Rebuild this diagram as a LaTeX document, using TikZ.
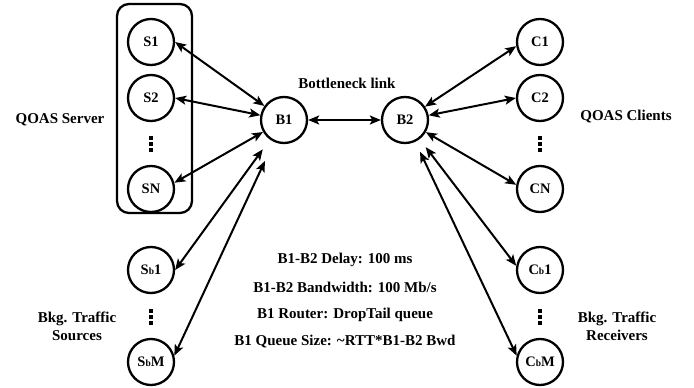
\documentclass[tikz,border=0pt]{standalone}
\usepackage{fontspec}
\setmainfont{Liberation Serif}
\usetikzlibrary{arrows.meta}
\begin{document}
\begin{tikzpicture}[x=1pt,y=-1pt,
  nd/.style={circle,draw,line width=2.3pt,minimum size=46pt,inner sep=0pt,font=\fontsize{14.5}{14.5}\selectfont\bfseries},
  lbl/.style={font=\fontsize{15}{18}\selectfont\bfseries,align=center},
  link/.style={line width=2pt,{Stealth[length=11pt,width=9pt,inset=2.5pt]}-{Stealth[length=11pt,width=9pt,inset=2.5pt]}},
  vdot/.style={fill=black}
]
\useasboundingbox (0,0) rectangle (694,388);
\newcommand{\smb}{{\fontsize{9.5}{9.5}\selectfont b}}
% server group box
\draw[line width=2.3pt,rounded corners=12pt] (117,4) rectangle (192,213);
% nodes
\node[nd] (S1) at (151,42) {S1};
\node[nd] (S2) at (151,98) {S2};
\node[nd] (SN) at (151,189) {SN};
\node[nd] (Sb1) at (151,270) {S\smb1};
\node[nd] (SbM) at (151,362) {S\smb M};
\node[nd] (B1) at (284,120) {B1};
\node[nd] (B2) at (405,120) {B2};
\node[nd] (C1) at (540,42) {C1};
\node[nd] (C2) at (540,98) {C2};
\node[nd] (CN) at (540,189) {CN};
\node[nd] (Cb1) at (540,270) {C\smb1};
\node[nd] (CbM) at (540,362) {C\smb M};
% vertical dots
\foreach \x/\y in {151/144, 151/317, 540/144, 540/317}{
  \foreach \d in {-6,0,6}{
    \fill (\x-1.7,\y+\d-1.7) rectangle (\x+1.7,\y+\d+1.7);
  }
}
% labels
\node[lbl] (lsrv) at (60,120) {QOAS Server};
\node[lbl] (lcli) at (626,117) {QOAS Clients};
\node[lbl] (lbot) at (347,83) {Bottleneck link};
\node[lbl] (lsrc) at (77,326) {Bkg. Traffic\\Sources};
\node[lbl] (lrcv) at (617,326) {Bkg. Traffic\\Receivers};
\node[lbl] (t1) at (345,260) {B1-B2 Delay: 100 ms};
\node[lbl] (t2) at (345,287) {B1-B2 Bandwidth: 100 Mb/s};
\node[lbl] (t3) at (345,315) {B1 Router: DropTail queue};
\node[lbl] (t4) at (345,342) {B1 Queue Size: \textasciitilde RTT*B1-B2 Bwd};
% links
\draw[link] (S1.east) -- (B1);
\draw[link] (S2.east) -- (B1);
\draw[link] (SN.15) -- (B1);
\draw[link,shorten >=12pt] (Sb1.east) -- (B1);
\draw[link,shorten >=21pt] (SbM.15) -- (B1);
\draw[link] (B1) -- (B2);
\draw[link] (B2) -- (C1.190);
\draw[link] (B2) -- (C2.west);
\draw[link] (B2) -- (CN.170);
\draw[link,shorten <=10pt] (B2) -- (Cb1.170);
\draw[link,shorten <=11pt] (B2) -- (CbM.165);
\end{tikzpicture}
\end{document}
